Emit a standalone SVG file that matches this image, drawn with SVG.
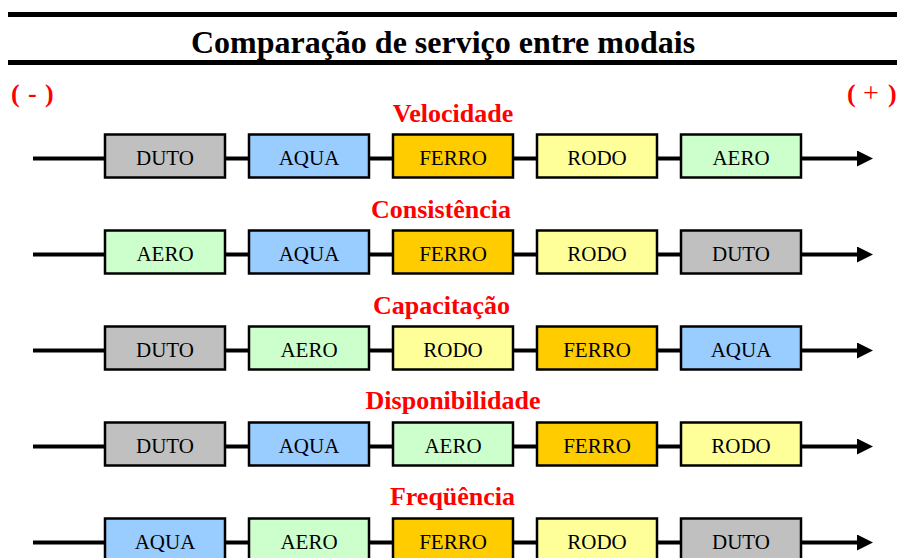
<svg xmlns="http://www.w3.org/2000/svg" width="899" height="558" viewBox="0 0 899 558">
<style>
.bx{stroke:#000;stroke-width:2.5}
.bt{font-family:"Liberation Serif","Times New Roman",serif;font-size:21px;fill:#000;text-anchor:middle}
.lb{font-family:"Liberation Serif","Times New Roman",serif;font-size:26px;font-weight:bold;fill:#FF0000;text-anchor:middle}
.ax{font-family:"Liberation Serif","Times New Roman",serif;font-size:26px;font-weight:bold;fill:#FF0000}
.ln{stroke:#000;stroke-width:4;fill:none}
.duto{fill:#C0C0C0}.aqua{fill:#99CCFF}.ferro{fill:#FFCC00}.rodo{fill:#FFFF99}.aero{fill:#CCFFCC}
</style>
<defs>
<marker id="ah" markerUnits="userSpaceOnUse" markerWidth="16" markerHeight="16" refX="0" refY="8" orient="auto" viewBox="0 0 16 16">
<path d="M0,0 L16,8 L0,16 Z" fill="#000"/>
</marker>
</defs>
<rect width="899" height="558" fill="#fff"/>
<g id="header">
<rect x="8" y="12" width="889" height="5" fill="#000"/>
<rect x="8" y="60" width="889" height="5" fill="#000"/>
<text x="443" y="53" font-family="Liberation Serif,Times New Roman,serif" font-size="32" font-weight="bold" text-anchor="middle">Comparação de serviço entre modais</text>
<text class="ax" y="102"><tspan x="11">(</tspan><tspan x="28">-</tspan><tspan x="45">)</tspan></text>
<text class="ax" y="102"><tspan x="847">(</tspan><tspan x="863" font-weight="normal" font-size="28">+</tspan><tspan x="888">)</tspan></text>
</g>
<g id="connectors">
<path class="ln" d="M33,158.5 H857" marker-end="url(#ah)"/>
<path class="ln" d="M33,254.5 H857" marker-end="url(#ah)"/>
<path class="ln" d="M33,350.5 H857" marker-end="url(#ah)"/>
<path class="ln" d="M33,446.5 H857" marker-end="url(#ah)"/>
<path class="ln" d="M33,542.5 H857" marker-end="url(#ah)"/>
</g>
<g id="row1">
<text class="lb" x="453" y="122">Velocidade</text>
<g id="r1-duto"><rect class="bx duto" x="105" y="134.5" width="120" height="43"/><text class="bt" x="165" y="165">DUTO</text></g>
<g id="r1-aqua"><rect class="bx aqua" x="249" y="134.5" width="120" height="43"/><text class="bt" x="309" y="165">AQUA</text></g>
<g id="r1-ferro"><rect class="bx ferro" x="393" y="134.5" width="120" height="43"/><text class="bt" x="453" y="165">FERRO</text></g>
<g id="r1-rodo"><rect class="bx rodo" x="537" y="134.5" width="120" height="43"/><text class="bt" x="597" y="165">RODO</text></g>
<g id="r1-aero"><rect class="bx aero" x="681" y="134.5" width="120" height="43"/><text class="bt" x="741" y="165">AERO</text></g>
</g>
<g id="row2">
<text class="lb" x="441" y="218">Consistência</text>
<g id="r2-aero"><rect class="bx aero" x="105" y="230.5" width="120" height="43"/><text class="bt" x="165" y="261">AERO</text></g>
<g id="r2-aqua"><rect class="bx aqua" x="249" y="230.5" width="120" height="43"/><text class="bt" x="309" y="261">AQUA</text></g>
<g id="r2-ferro"><rect class="bx ferro" x="393" y="230.5" width="120" height="43"/><text class="bt" x="453" y="261">FERRO</text></g>
<g id="r2-rodo"><rect class="bx rodo" x="537" y="230.5" width="120" height="43"/><text class="bt" x="597" y="261">RODO</text></g>
<g id="r2-duto"><rect class="bx duto" x="681" y="230.5" width="120" height="43"/><text class="bt" x="741" y="261">DUTO</text></g>
</g>
<g id="row3">
<text class="lb" x="441.5" y="314">Capacitação</text>
<g id="r3-duto"><rect class="bx duto" x="105" y="326.5" width="120" height="43"/><text class="bt" x="165" y="357">DUTO</text></g>
<g id="r3-aero"><rect class="bx aero" x="249" y="326.5" width="120" height="43"/><text class="bt" x="309" y="357">AERO</text></g>
<g id="r3-rodo"><rect class="bx rodo" x="393" y="326.5" width="120" height="43"/><text class="bt" x="453" y="357">RODO</text></g>
<g id="r3-ferro"><rect class="bx ferro" x="537" y="326.5" width="120" height="43"/><text class="bt" x="597" y="357">FERRO</text></g>
<g id="r3-aqua"><rect class="bx aqua" x="681" y="326.5" width="120" height="43"/><text class="bt" x="741" y="357">AQUA</text></g>
</g>
<g id="row4">
<text class="lb" x="453" y="409">Disponibilidade</text>
<g id="r4-duto"><rect class="bx duto" x="105" y="422.5" width="120" height="43"/><text class="bt" x="165" y="453">DUTO</text></g>
<g id="r4-aqua"><rect class="bx aqua" x="249" y="422.5" width="120" height="43"/><text class="bt" x="309" y="453">AQUA</text></g>
<g id="r4-aero"><rect class="bx aero" x="393" y="422.5" width="120" height="43"/><text class="bt" x="453" y="453">AERO</text></g>
<g id="r4-ferro"><rect class="bx ferro" x="537" y="422.5" width="120" height="43"/><text class="bt" x="597" y="453">FERRO</text></g>
<g id="r4-rodo"><rect class="bx rodo" x="681" y="422.5" width="120" height="43"/><text class="bt" x="741" y="453">RODO</text></g>
</g>
<g id="row5">
<text class="lb" x="452.5" y="505">Freqüência</text>
<g id="r5-aqua"><rect class="bx aqua" x="105" y="518.5" width="120" height="43"/><text class="bt" x="165" y="549">AQUA</text></g>
<g id="r5-aero"><rect class="bx aero" x="249" y="518.5" width="120" height="43"/><text class="bt" x="309" y="549">AERO</text></g>
<g id="r5-ferro"><rect class="bx ferro" x="393" y="518.5" width="120" height="43"/><text class="bt" x="453" y="549">FERRO</text></g>
<g id="r5-rodo"><rect class="bx rodo" x="537" y="518.5" width="120" height="43"/><text class="bt" x="597" y="549">RODO</text></g>
<g id="r5-duto"><rect class="bx duto" x="681" y="518.5" width="120" height="43"/><text class="bt" x="741" y="549">DUTO</text></g>
</g>
</svg>
